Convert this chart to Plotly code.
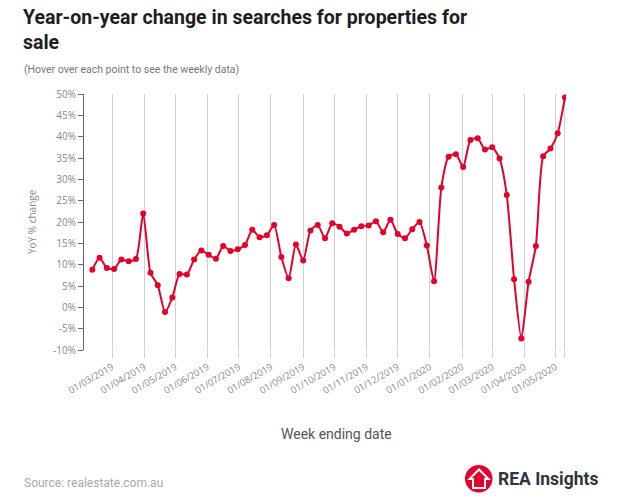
import pandas as pd
import plotly.graph_objects as go

# Weekly YoY % change in searches (week ending Sunday)
week_ending = pd.date_range("2019-02-10", "2020-05-10", freq="7D")
yoy_change = [
    8.8, 11.6, 9.2, 9.0, 11.2, 10.8, 11.3, 22.0, 8.1, 5.2,
    -1.1, 2.3, 7.8, 7.7, 11.2, 13.3, 12.3, 11.4, 14.4, 13.2,
    13.6, 14.6, 18.2, 16.4, 16.9, 19.3, 11.8, 6.8, 14.7, 11.0,
    18.0, 19.3, 16.2, 19.7, 18.9, 17.3, 18.2, 19.0, 19.2, 20.2,
    17.6, 20.5, 17.2, 16.2, 18.3, 20.0, 14.5, 6.1, 28.1, 35.3,
    35.9, 32.9, 39.2, 39.6, 37.0, 37.5, 34.9, 26.3, 6.6, -7.3,
    6.0, 14.4, 35.4, 37.2, 40.8, 49.2,
]

month_ticks = list(pd.date_range("2019-03-01", "2020-05-01", freq="MS"))
tick_vals = month_ticks + [week_ending[-1]]
tick_text = [d.strftime("%d/%m/%Y") for d in month_ticks] + [""]

y_ticks = list(range(-10, 55, 5))
y_labels = [f"{v}%" for v in y_ticks]

RED = "#e4002b"
W, H = 640, 503
L, R, T, B = 84, 74, 94, 153


def px(x):
    return (x - L) / (W - L - R)


def py(y):
    return (H - B - y) / (H - T - B)


fig = go.Figure()
fig.add_trace(go.Scatter(
    x=week_ending, y=yoy_change, mode="lines+markers",
    line=dict(color=RED, width=2, shape="spline", smoothing=0.6),
    marker=dict(color=RED, size=6),
    hovertemplate="%{x|%d/%m/%Y}: %{y:.1f}%<extra></extra>",
))

fig.update_layout(
    width=W, height=H,
    margin=dict(l=L, r=R, t=T, b=B),
    paper_bgcolor="white", plot_bgcolor="white",
    showlegend=False,
    font=dict(family="Open Sans", color="#888"),
)

fig.update_xaxes(
    range=["2019-02-02", "2020-05-11"],
    tickvals=tick_vals, ticktext=tick_text, tickangle=-30,
    showgrid=True, gridcolor="#d0d0d0", gridwidth=1,
    ticks="outside", ticklen=7, tickcolor="#d0d0d0",
    tickfont=dict(size=9.5, color="#888"),
    showline=False, zeroline=False,
)
fig.update_yaxes(
    range=[-10, 50], tickvals=y_ticks, ticktext=y_labels,
    showgrid=False, zeroline=False,
    showline=True, linecolor="#666", linewidth=1,
    ticks="outside", ticklen=5, tickcolor="#666",
    tickfont=dict(size=10, color="#888"),
)

annots = [
    dict(text="<b>Year-on-year change in searches for properties for<br>sale</b>",
         x=px(21), y=py(4), xanchor="left", yanchor="top", align="left",
         font=dict(family="Roboto", size=19.5, color="#1e1e1e")),
    dict(text="(Hover over each point to see the weekly data)",
         x=px(22), y=py(69), xanchor="left", yanchor="middle",
         font=dict(family="Roboto", size=10.5, color="#777")),
    dict(text="YoY % change", x=px(32), y=py(222), textangle=-90,
         xanchor="center", yanchor="middle",
         font=dict(size=10, color="#888")),
    dict(text="Week ending date", x=px(336), y=py(434),
         xanchor="center", yanchor="middle",
         font=dict(family="Roboto", size=14, color="#555")),
    dict(text="Source: realestate.com.au", x=px(22), y=py(483),
         xanchor="left", yanchor="middle",
         font=dict(family="Roboto", size=12, color="#aaa")),
    dict(text="<b>REA Insights</b>", x=px(496), y=py(479),
         xanchor="left", yanchor="middle",
         font=dict(family="Roboto", size=17.5, color="#2d3540")),
]
for a in annots:
    fig.add_annotation(xref="paper", yref="paper", showarrow=False, **a)

# logo: red circle with white house outline
fig.add_shape(type="circle", xref="paper", yref="paper",
              x0=px(465), x1=px(492.5), y0=py(492.5), y1=py(465),
              fillcolor=RED, line=dict(color=RED, width=0))
house = [(473, 488), (473, 479), (469.5, 479), (479, 469.5), (488.5, 479), (485, 479), (485, 488)]
path = "M " + " L ".join(f"{px(x):.4f},{py(y):.4f}" for x, y in house) + " Z"
fig.add_shape(type="path", xref="paper", yref="paper", path=path,
              fillcolor="rgba(0,0,0,0)", line=dict(color="white", width=2))

fig.write_html("out.html", config={"displayModeBar": False},
               post_script="document.body.style.margin='0';")
